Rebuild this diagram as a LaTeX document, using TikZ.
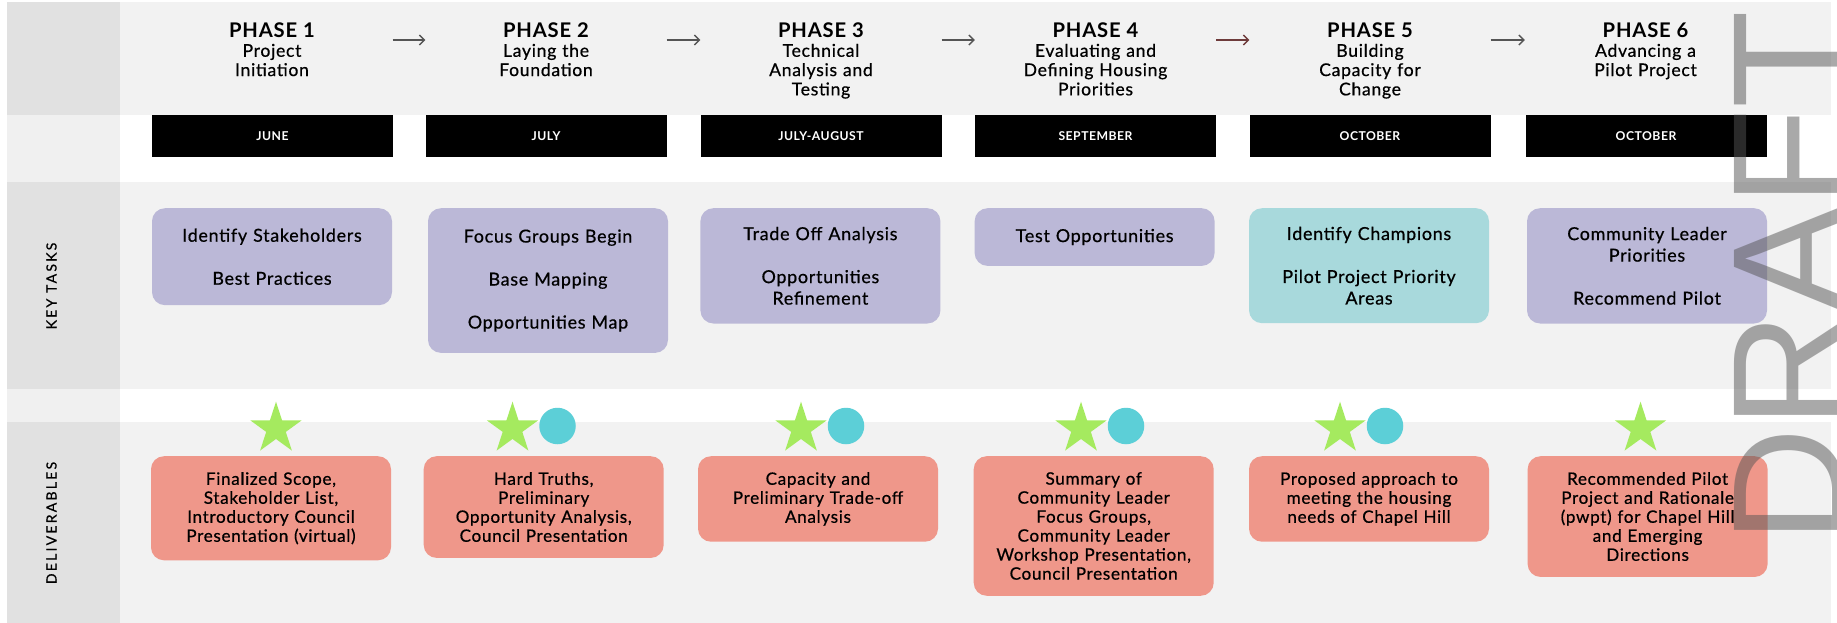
\documentclass[tikz,border=0pt]{standalone}
\usepackage{fontspec}
\setmainfont{Lato}[LetterSpace=4, UprightFeatures={FakeBold=0.6}]
\newfontfamily\draftfont{Liberation Sans}
\newfontfamily\rowfont[LetterSpace=16, FakeBold=0.6]{Lato}
\usepackage{tikz}
\usetikzlibrary{positioning, shapes.geometric, arrows.meta}

\definecolor{colgray}{HTML}{E1E1E1}
\definecolor{collight}{HTML}{F0F0F0}
\definecolor{bandgray}{HTML}{F2F2F2}
\definecolor{taskpurple}{HTML}{BBB8D7}
\definecolor{taskteal}{HTML}{A8D9DC}
\definecolor{delivred}{HTML}{EF978A}
\definecolor{stargreen}{HTML}{A5EA5F}
\definecolor{dotcyan}{HTML}{5CCFD7}
\definecolor{arrowgray}{HTML}{555555}
\definecolor{arrowbrown}{HTML}{6E3B3B}

\tikzset{
	phase/.style={anchor=north, inner sep=0pt, text width=241pt, align=center, font=\fontsize{17.6}{19.3}\selectfont},
	month/.style={fill=black, text=white, minimum width=241pt, minimum height=42pt, inner sep=0pt, font=\fontsize{12.2}{12}\selectfont\bfseries},
	task/.style={anchor=north, fill=taskpurple, rounded corners=13pt, text width=232pt, inner xsep=4pt, align=center, font=\fontsize{17.9}{21.5}\selectfont},
	deliv/.style={anchor=north, fill=delivred, rounded corners=13pt, text width=232pt, inner xsep=4pt, inner ysep=16pt, align=center, font=\fontsize{17.1}{19}\selectfont},
	milestone/.style={star, star points=5, star point ratio=2.618, minimum size=54pt, inner sep=0pt, fill=stargreen},
	meeting/.style={circle, minimum size=36.5pt, inner sep=0pt, fill=dotcyan},
	rowlabel/.style={rotate=90, inner sep=0pt, font=\rowfont\fontsize{14}{14}\selectfont},
	phasearrow/.style={-{Straight Barb[length=5pt,width=10pt]}, line width=1.3pt, arrowgray},
	draftmark/.style={rotate=90, anchor=base west, inner sep=0pt, text=black!67, text opacity=0.5, font=\draftfont\fontsize{160}{160}\selectfont}
}
\newcommand{\phasetitle}[1]{{\fontsize{20.2}{19.3}\selectfont\bfseries #1}}

\begin{document}
\begin{tikzpicture}[x=1pt, y=-1pt]
	\useasboundingbox (0,0) rectangle (1837,623);
	\clip (0,0) rectangle (1837,623);
	\fill[white] (0,0) rectangle (1837,623);
	
	%bands
	\fill[bandgray] (120,1.7) rectangle (1831,115);
	\fill[bandgray] (120,182) rectangle (1831,389);
	\fill[bandgray] (120,422) rectangle (1831,623);
	
	%left column
	\fill[colgray]  (6.7,1.7) rectangle (120,115);
	\fill[collight] (6.7,115) rectangle (120,182);
	\fill[colgray]  (6.7,182) rectangle (120,389);
	\fill[collight] (6.7,389) rectangle (120,422);
	\fill[colgray]  (6.7,422) rectangle (120,623);
	
	%row labels
	\node[rowlabel] (keytasks)     at (51.5,286) {KEY TASKS};
	\node[rowlabel] (deliverables) at (51.5,523) {DELIVERABLES};
	
	%phase headers
	\node[phase] (p1) at (272,22.5)    {\phasetitle{PHASE 1}\\Project\\Initiation};
	\node[phase] (p2) at (546,22.5)    {\phasetitle{PHASE 2}\\Laying the\\Foundation};
	\node[phase] (p3) at (821,22.5)    {\phasetitle{PHASE 3}\\Technical\\Analysis and\\Testing};
	\node[phase] (p4) at (1095.5,22.5) {\phasetitle{PHASE 4}\\Evaluating and\\Defining Housing\\Priorities};
	\node[phase] (p5) at (1370,22.5)   {\phasetitle{PHASE 5}\\Building\\Capacity for\\Change};
	\node[phase] (p6) at (1645.5,22.5) {\phasetitle{PHASE 6}\\Advancing a\\Pilot Project};
	
	%arrows
	\draw[phasearrow] (p1.east |- 0,40) -- (p2.west |- 0,40);		%1--2
	\draw[phasearrow] (p2.east |- 0,40) -- (p3.west |- 0,40);		%2--3
	\draw[phasearrow] (p3.east |- 0,40) -- (p4.west |- 0,40);		%3--4
	\draw[phasearrow,arrowbrown] (p4.east |- 0,40) -- (p5.west |- 0,40);	%4--5
	\draw[phasearrow] (p5.east |- 0,40) -- (p6.west |- 0,40);		%5--6
	
	%months
	\node[month] (m1) at (272.5,136)  {JUNE};
	\node[month] (m2) at (546,136)    {JULY};
	\node[month] (m3) at (821,136)    {JULY-AUGUST};
	\node[month] (m4) at (1095.5,136) {SEPTEMBER};
	\node[month] (m5) at (1370,136)   {OCTOBER};
	\node[month] (m6) at (1646,136)   {OCTOBER};
	
	%key tasks
	\node[task,minimum height=97pt]    (t1) at (272,208)    {Identify Stakeholders\\[21.5pt]Best Practices};
	\node[task,minimum height=144.7pt] (t2) at (548,208)    {Focus Groups Begin\\[21.5pt]Base Mapping\\[21.5pt]Opportunities Map};
	\node[task,minimum height=115.3pt] (t3) at (820.4,208)  {Trade Off Analysis\\[21.5pt]Opportunities\\Refinement};
	\node[task,minimum height=57.7pt]  (t4) at (1094.6,208) {Test Opportunities};
	\node[task,minimum height=115pt,fill=taskteal] (t5) at (1369,208) {Identify Champions\\[21.5pt]Pilot Project Priority\\Areas};
	\node[task,minimum height=115.3pt] (t6) at (1647,208)   {Community Leader\\Priorities\\[21.5pt]Recommend Pilot};
	
	%stars and dots
	\node[milestone] (st1) at (276,428.7)   {};
	\node[milestone] (st2) at (512.5,428.7) {};
	\node[milestone] (st3) at (801,428.7)   {};
	\node[milestone] (st4) at (1081,428.7)  {};
	\node[milestone] (st5) at (1340,428.7)  {};
	\node[milestone] (st6) at (1640.5,428.7) {};
	\node[meeting,on grid,right=45pt of st2,yshift=2.7pt] (ci2) {};
	\node[meeting,on grid,right=45pt of st3,yshift=2.7pt] (ci3) {};
	\node[meeting,on grid,right=45pt of st4,yshift=2.7pt] (ci4) {};
	\node[meeting,on grid,right=45pt of st5,yshift=2.7pt] (ci5) {};
	
	%deliverables
	\node[deliv] (dl1) at (271,456)    {Finalized Scope,\\Stakeholder List,\\Introductory Council\\Presentation (virtual)};
	\node[deliv] (dl2) at (543.7,456)  {Hard Truths,\\Preliminary\\Opportunity Analysis,\\Council Presentation};
	\node[deliv] (dl3) at (818,456)    {Capacity and\\Preliminary Trade-off\\Analysis};
	\node[deliv] (dl4) at (1093.7,456) {Summary of\\Community Leader\\Focus Groups,\\Community Leader\\Workshop Presentation,\\Council Presentation};
	\node[deliv] (dl5) at (1369,456)   {Proposed approach to\\meeting the housing\\needs of Chapel Hill};
	\node[deliv] (dl6) at (1647.6,456) {Recommended Pilot\\Project and Rationale\\(pwpt) for Chapel Hill\\and Emerging\\Directions};
	
	%watermark
	\node[draftmark] (draft) at (1844,544) {DRAFT};
\end{tikzpicture}
\end{document}
